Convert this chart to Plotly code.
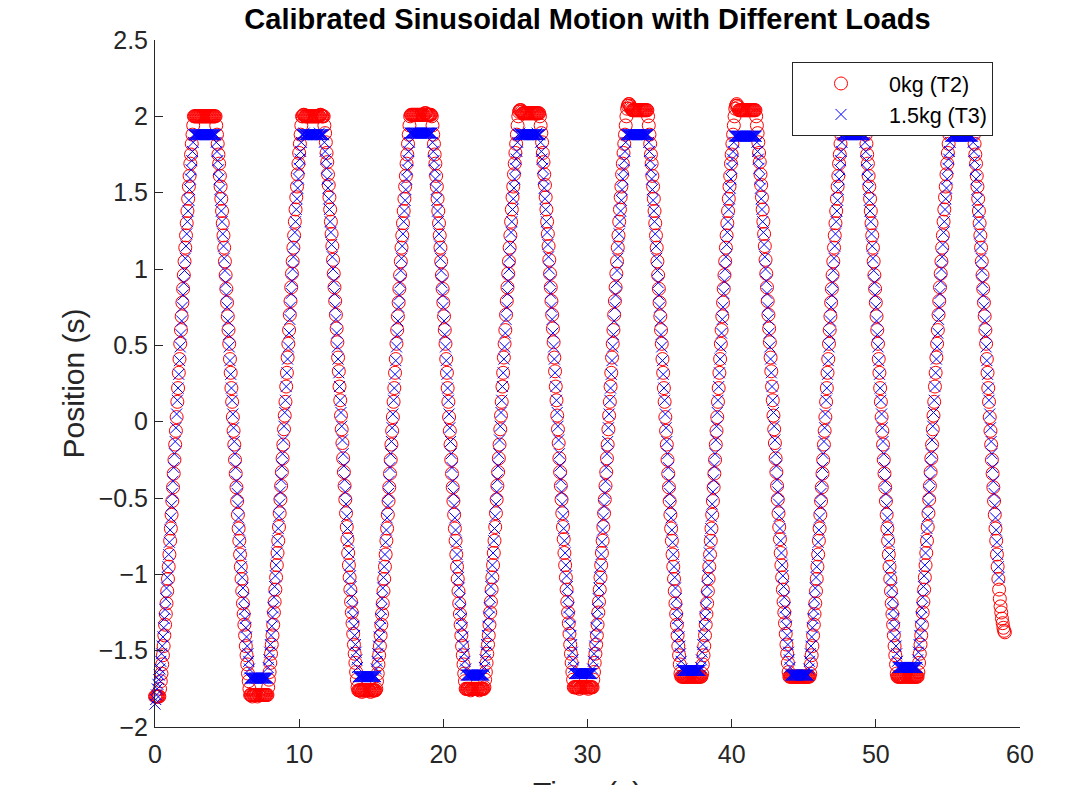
import plotly.graph_objects as go

# Sampling interval of the recorded motion (s)
SAMPLE_DT = 0.05

# ---------------- values ----------------
series_names = ["0kg (T2)", "1.5kg (T3)"]
x_ticks = [0, 10, 20, 30, 40, 50, 60]
x_tick_labels = ["0", "10", "20", "30", "40", "50", "60"]
y_ticks = [-2, -1.5, -1, -0.5, 0, 0.5, 1, 1.5, 2, 2.5]
y_tick_labels = ["\u22122", "\u22121.5", "\u22121", "\u22120.5", "0", "0.5", "1", "1.5", "2", "2.5"]

# Position of the 0kg run (T2), one value per sample
pos_0kg = [
    -1.8, -1.8, -1.8, -1.8, -1.8, -1.8, -1.8,
    # cycle 1
    -1.75, -1.7, -1.65, -1.59, -1.53, -1.47, -1.4, -1.33, -1.26, -1.19, -1.11, -1.03, -0.95, -0.87, -0.78, -0.7, -0.61, -0.52, -0.43, -0.34, -0.25, -0.15, -0.06, 0.03, 0.13, 0.22, 0.32, 0.41, 0.51, 0.6, 0.69, 0.78, 0.87, 0.96, 1.05, 1.14, 1.22, 1.3, 1.38, 1.46, 1.54, 1.61, 1.69, 1.75, 1.82, 1.88, 1.94,
    2.0, 2.0, 2.0, 2.0, 2.0, 2.0, 2.0, 2.0, 2.0, 2.0, 2.0, 2.0, 2.0, 2.0, 2.0, 2.0, 2.0, 2.0, 2.0, 2.0, 2.0, 2.0, 2.0, 2.0, 2.0, 2.0, 2.0, 2.0, 2.0, 2.0, 2.0,
    1.94, 1.88, 1.82, 1.75, 1.69, 1.61, 1.54, 1.46, 1.38, 1.3, 1.22, 1.14, 1.05, 0.96, 0.87, 0.78, 0.69, 0.6, 0.51, 0.41, 0.32, 0.22, 0.13, 0.03, -0.06, -0.15, -0.25, -0.34, -0.43, -0.52, -0.61, -0.7, -0.78, -0.87, -0.95, -1.03, -1.11, -1.19, -1.26, -1.33, -1.4, -1.47, -1.53, -1.59, -1.65, -1.7, -1.75,
    -1.79, -1.79, -1.79, -1.8, -1.79, -1.79, -1.79, -1.79, -1.79, -1.79, -1.8, -1.79, -1.79, -1.79, -1.79, -1.79, -1.79, -1.79, -1.79, -1.79, -1.79, -1.79, -1.79, -1.79, -1.79,
    # cycle 2
    -1.74, -1.69, -1.64, -1.58, -1.52, -1.46, -1.4, -1.33, -1.25, -1.18, -1.1, -1.02, -0.94, -0.86, -0.78, -0.69, -0.6, -0.51, -0.42, -0.33, -0.24, -0.15, -0.05, 0.04, 0.13, 0.23, 0.32, 0.42, 0.51, 0.6, 0.7, 0.79, 0.88, 0.97, 1.05, 1.14, 1.22, 1.31, 1.39, 1.47, 1.54, 1.62, 1.69, 1.76, 1.82, 1.88, 1.94,
    2.0, 2.0, 2.01, 2.01, 2.0, 2.0, 2.0, 2.0, 2.0, 2.0, 2.0, 2.0, 2.0, 2.0, 2.0, 2.0, 2.0, 2.0, 2.0, 2.0, 2.0, 2.0, 2.0, 2.0, 2.0, 2.01, 2.01, 2.0, 2.0, 2.0, 2.0,
    1.94, 1.89, 1.83, 1.76, 1.7, 1.62, 1.55, 1.47, 1.39, 1.31, 1.23, 1.15, 1.06, 0.97, 0.88, 0.79, 0.7, 0.61, 0.52, 0.42, 0.33, 0.23, 0.14, 0.04, -0.05, -0.14, -0.24, -0.33, -0.42, -0.51, -0.6, -0.69, -0.77, -0.86, -0.94, -1.02, -1.1, -1.18, -1.25, -1.32, -1.39, -1.46, -1.52, -1.58, -1.64, -1.69, -1.74,
    -1.76, -1.76, -1.76, -1.76, -1.76, -1.77, -1.76, -1.76, -1.76, -1.76, -1.76, -1.76, -1.76, -1.76, -1.76, -1.76, -1.76, -1.77, -1.76, -1.76, -1.76, -1.76, -1.76, -1.76, -1.76,
    # cycle 3
    -1.75, -1.7, -1.65, -1.59, -1.53, -1.47, -1.4, -1.33, -1.26, -1.19, -1.11, -1.03, -0.95, -0.87, -0.78, -0.7, -0.61, -0.52, -0.43, -0.34, -0.25, -0.15, -0.06, 0.03, 0.13, 0.22, 0.32, 0.41, 0.51, 0.6, 0.69, 0.78, 0.87, 0.96, 1.05, 1.14, 1.22, 1.3, 1.38, 1.46, 1.54, 1.61, 1.69, 1.75, 1.82, 1.88, 1.94,
    2.0, 2.01, 2.01, 2.01, 2.01, 2.01, 2.01, 2.01, 2.01, 2.01, 2.01, 2.01, 2.01, 2.01, 2.01, 2.01, 2.01, 2.01, 2.01, 2.01, 2.02, 2.02, 2.02, 2.01, 2.01, 2.01, 2.01, 2.01, 2.01, 2.01, 2.0,
    1.94, 1.88, 1.82, 1.75, 1.69, 1.61, 1.54, 1.46, 1.38, 1.3, 1.22, 1.14, 1.05, 0.96, 0.87, 0.78, 0.69, 0.6, 0.51, 0.41, 0.32, 0.22, 0.13, 0.03, -0.06, -0.15, -0.25, -0.34, -0.43, -0.52, -0.61, -0.7, -0.78, -0.87, -0.95, -1.03, -1.11, -1.19, -1.26, -1.33, -1.4, -1.47, -1.53, -1.59, -1.65, -1.7, -1.75,
    -1.75, -1.75, -1.75, -1.75, -1.75, -1.75, -1.76, -1.75, -1.75, -1.75, -1.75, -1.75, -1.75, -1.75, -1.75, -1.75, -1.75, -1.75, -1.76, -1.75, -1.75, -1.75, -1.75, -1.75, -1.75,
    # cycle 4
    -1.74, -1.69, -1.64, -1.58, -1.52, -1.46, -1.4, -1.33, -1.25, -1.18, -1.1, -1.02, -0.94, -0.86, -0.78, -0.69, -0.6, -0.51, -0.42, -0.33, -0.24, -0.15, -0.05, 0.04, 0.13, 0.23, 0.32, 0.42, 0.51, 0.6, 0.7, 0.79, 0.88, 0.97, 1.05, 1.14, 1.22, 1.31, 1.39, 1.47, 1.54, 1.62, 1.69, 1.76, 1.82, 1.88, 1.94,
    2.0, 2.03, 2.04, 2.04, 2.04, 2.03, 2.02, 2.02, 2.02, 2.02, 2.02, 2.02, 2.02, 2.02, 2.02, 2.02, 2.02, 2.02, 2.02, 2.02, 2.02, 2.02, 2.02, 2.02, 2.02, 2.02, 2.02, 2.02, 2.02, 2.02, 2.0,
    1.94, 1.89, 1.83, 1.76, 1.7, 1.62, 1.55, 1.47, 1.39, 1.31, 1.23, 1.15, 1.06, 0.97, 0.88, 0.79, 0.7, 0.61, 0.52, 0.42, 0.33, 0.23, 0.14, 0.04, -0.05, -0.14, -0.24, -0.33, -0.42, -0.51, -0.6, -0.69, -0.77, -0.86, -0.94, -1.02, -1.1, -1.18, -1.25, -1.32, -1.39, -1.46, -1.52, -1.58, -1.64, -1.69, -1.74,
    -1.74, -1.74, -1.74, -1.74, -1.74, -1.74, -1.74, -1.75, -1.74, -1.74, -1.74, -1.74, -1.74, -1.74, -1.74, -1.74, -1.74, -1.74, -1.74, -1.75, -1.74, -1.74, -1.74, -1.74, -1.74,
    # cycle 5
    -1.74, -1.69, -1.64, -1.58, -1.52, -1.46, -1.4, -1.33, -1.25, -1.18, -1.1, -1.02, -0.94, -0.86, -0.78, -0.69, -0.6, -0.51, -0.42, -0.33, -0.24, -0.15, -0.05, 0.04, 0.13, 0.23, 0.32, 0.42, 0.51, 0.6, 0.7, 0.79, 0.88, 0.97, 1.05, 1.14, 1.22, 1.31, 1.39, 1.47, 1.54, 1.62, 1.69, 1.76, 1.82, 1.88, 1.94,
    2.0, 2.05, 2.07, 2.08, 2.08, 2.07, 2.06, 2.05, 2.04, 2.04, 2.04, 2.04, 2.04, 2.04, 2.04, 2.04, 2.04, 2.04, 2.04, 2.04, 2.04, 2.04, 2.04, 2.04, 2.04, 2.04, 2.04, 2.04, 2.04, 2.04, 2.0,
    1.94, 1.88, 1.82, 1.75, 1.69, 1.61, 1.54, 1.46, 1.38, 1.3, 1.22, 1.14, 1.05, 0.96, 0.87, 0.78, 0.69, 0.6, 0.51, 0.41, 0.32, 0.22, 0.13, 0.03, -0.06, -0.15, -0.25, -0.34, -0.43, -0.52, -0.61, -0.7, -0.78, -0.87, -0.95, -1.03, -1.11, -1.19, -1.26, -1.33, -1.4, -1.47, -1.53, -1.59, -1.65, -1.67, -1.67,
    -1.67, -1.67, -1.67, -1.67, -1.67, -1.67, -1.67, -1.67, -1.67, -1.67, -1.67, -1.67, -1.67, -1.67, -1.67, -1.67, -1.67, -1.67, -1.67, -1.67, -1.67, -1.67, -1.67, -1.67, -1.67,
    # cycle 6
    -1.67, -1.67, -1.65, -1.59, -1.53, -1.47, -1.4, -1.33, -1.26, -1.19, -1.11, -1.03, -0.95, -0.87, -0.78, -0.7, -0.61, -0.52, -0.43, -0.34, -0.25, -0.15, -0.06, 0.03, 0.13, 0.22, 0.32, 0.41, 0.51, 0.6, 0.69, 0.78, 0.87, 0.96, 1.05, 1.14, 1.22, 1.3, 1.38, 1.46, 1.54, 1.61, 1.69, 1.75, 1.82, 1.88, 1.94,
    2.0, 2.05, 2.07, 2.08, 2.07, 2.06, 2.04, 2.04, 2.04, 2.04, 2.04, 2.04, 2.04, 2.04, 2.04, 2.04, 2.04, 2.04, 2.04, 2.04, 2.04, 2.04, 2.04, 2.04, 2.04, 2.04, 2.04, 2.04, 2.04, 2.04, 2.0,
    1.94, 1.89, 1.83, 1.76, 1.7, 1.62, 1.55, 1.47, 1.39, 1.31, 1.23, 1.15, 1.06, 0.97, 0.88, 0.79, 0.7, 0.61, 0.52, 0.42, 0.33, 0.23, 0.14, 0.04, -0.05, -0.14, -0.24, -0.33, -0.42, -0.51, -0.6, -0.69, -0.77, -0.86, -0.94, -1.02, -1.1, -1.18, -1.25, -1.32, -1.39, -1.46, -1.52, -1.58, -1.64, -1.67, -1.67,
    -1.67, -1.67, -1.67, -1.67, -1.67, -1.67, -1.67, -1.67, -1.67, -1.67, -1.67, -1.67, -1.67, -1.67, -1.67, -1.67, -1.67, -1.67, -1.67, -1.67, -1.67, -1.67, -1.67, -1.67, -1.67,
    # cycle 7
    -1.67, -1.67, -1.65, -1.59, -1.53, -1.47, -1.4, -1.33, -1.26, -1.19, -1.11, -1.03, -0.95, -0.87, -0.78, -0.7, -0.61, -0.52, -0.43, -0.34, -0.25, -0.15, -0.06, 0.03, 0.13, 0.22, 0.32, 0.41, 0.51, 0.6, 0.69, 0.78, 0.87, 0.96, 1.05, 1.14, 1.22, 1.3, 1.38, 1.46, 1.54, 1.61, 1.69, 1.75, 1.82, 1.88, 1.94,
    2.0, 2.0, 2.0, 2.0, 2.0, 2.0, 2.0, 2.0, 2.0, 2.0, 2.0, 2.0, 2.0, 2.0, 2.0, 2.0, 2.0, 2.0, 2.0, 2.0, 2.0, 2.0, 2.0, 2.0, 2.0, 2.0, 2.0, 2.0, 2.0, 2.0, 2.0,
    1.94, 1.88, 1.82, 1.75, 1.69, 1.61, 1.54, 1.46, 1.38, 1.3, 1.22, 1.14, 1.05, 0.96, 0.87, 0.78, 0.69, 0.6, 0.51, 0.41, 0.32, 0.22, 0.13, 0.03, -0.06, -0.15, -0.25, -0.34, -0.43, -0.52, -0.61, -0.7, -0.78, -0.87, -0.95, -1.03, -1.11, -1.19, -1.26, -1.33, -1.4, -1.47, -1.53, -1.59, -1.65, -1.67, -1.67,
    -1.67, -1.67, -1.67, -1.67, -1.67, -1.67, -1.67, -1.67, -1.67, -1.66, -1.67, -1.67, -1.67, -1.67, -1.67, -1.67, -1.67, -1.67, -1.67, -1.67, -1.67, -1.67, -1.67, -1.67, -1.67,
    # cycle 8
    -1.67, -1.67, -1.64, -1.58, -1.52, -1.46, -1.4, -1.33, -1.25, -1.18, -1.1, -1.02, -0.94, -0.86, -0.78, -0.69, -0.6, -0.51, -0.42, -0.33, -0.24, -0.15, -0.05, 0.04, 0.13, 0.23, 0.32, 0.42, 0.51, 0.6, 0.7, 0.79, 0.88, 0.97, 1.05, 1.14, 1.22, 1.31, 1.39, 1.47, 1.54, 1.62, 1.69, 1.76, 1.82, 1.88, 1.94,
    2.0, 2.0, 2.0, 2.0, 2.0, 2.0, 2.0, 2.0, 2.0, 2.0, 2.0, 2.0, 2.0, 2.0, 2.0, 2.0, 2.0, 2.0, 2.0, 2.0, 2.0, 2.0, 2.0, 2.0, 2.0, 2.0, 2.0, 2.0, 2.0, 2.0, 2.0,
    1.94, 1.88, 1.82, 1.75, 1.69, 1.61, 1.54, 1.46, 1.38, 1.3, 1.22, 1.14, 1.05, 0.96, 0.87, 0.78, 0.69, 0.6, 0.51, 0.41, 0.32, 0.22, 0.13, 0.03, -0.06, -0.15, -0.25, -0.34, -0.43, -0.52, -0.61, -0.7, -0.78, -0.87, -0.95,
    -1.03, -1.1, -1.16, -1.21, -1.25, -1.29, -1.32, -1.35, -1.37, -1.38,
]

# Position of the 1.5kg run (T3), one value per sample
pos_15kg = [
    -1.85, -1.82, -1.79, -1.75, -1.72, -1.69, -1.66,
    # cycle 1
    -1.62, -1.57, -1.52, -1.47, -1.41, -1.35, -1.29, -1.23, -1.16, -1.09, -1.02, -0.95, -0.87, -0.79, -0.71, -0.63, -0.55, -0.47, -0.39, -0.3, -0.21, -0.13, -0.04, 0.05, 0.14, 0.22, 0.31, 0.4, 0.49, 0.57, 0.66, 0.75, 0.83, 0.91, 0.99, 1.07, 1.15, 1.23, 1.31, 1.38, 1.45, 1.52, 1.59, 1.65, 1.71, 1.77, 1.83,
    1.88, 1.88, 1.88, 1.88, 1.88, 1.88, 1.88, 1.88, 1.88, 1.88, 1.88, 1.88, 1.88, 1.88, 1.88, 1.88, 1.88, 1.88, 1.88, 1.88, 1.88, 1.88, 1.88, 1.88, 1.88, 1.88, 1.88, 1.88, 1.88, 1.88, 1.88,
    1.83, 1.77, 1.71, 1.65, 1.59, 1.52, 1.45, 1.38, 1.31, 1.23, 1.15, 1.07, 0.99, 0.91, 0.83, 0.75, 0.66, 0.57, 0.49, 0.4, 0.31, 0.22, 0.14, 0.05, -0.04, -0.13, -0.21, -0.3, -0.39, -0.47, -0.55, -0.63, -0.71, -0.79, -0.87, -0.95, -1.02, -1.09, -1.16, -1.23, -1.29, -1.35, -1.41, -1.47, -1.52, -1.57, -1.62,
    -1.68, -1.68, -1.68, -1.68, -1.68, -1.68, -1.68, -1.68, -1.68, -1.68, -1.68, -1.68, -1.68, -1.68, -1.68, -1.68, -1.68, -1.68, -1.68, -1.68, -1.68, -1.68, -1.68, -1.68, -1.68,
    # cycle 2
    -1.61, -1.56, -1.51, -1.46, -1.4, -1.34, -1.28, -1.22, -1.15, -1.08, -1.01, -0.94, -0.86, -0.78, -0.7, -0.62, -0.54, -0.46, -0.38, -0.29, -0.21, -0.12, -0.03, 0.06, 0.14, 0.23, 0.32, 0.41, 0.49, 0.58, 0.67, 0.75, 0.84, 0.92, 1.0, 1.08, 1.16, 1.24, 1.31, 1.39, 1.46, 1.53, 1.59, 1.66, 1.72, 1.77, 1.83,
    1.88, 1.88, 1.88, 1.89, 1.88, 1.88, 1.88, 1.88, 1.88, 1.88, 1.88, 1.88, 1.88, 1.88, 1.88, 1.88, 1.88, 1.88, 1.88, 1.88, 1.88, 1.88, 1.88, 1.88, 1.89, 1.88, 1.88, 1.88, 1.88, 1.88, 1.88,
    1.83, 1.77, 1.72, 1.66, 1.59, 1.53, 1.46, 1.39, 1.31, 1.24, 1.16, 1.08, 1.0, 0.92, 0.84, 0.75, 0.67, 0.58, 0.49, 0.41, 0.32, 0.23, 0.14, 0.06, -0.03, -0.12, -0.21, -0.29, -0.38, -0.46, -0.54, -0.62, -0.7, -0.78, -0.86, -0.94, -1.01, -1.08, -1.15, -1.22, -1.28, -1.34, -1.4, -1.46, -1.51, -1.56, -1.61,
    -1.67, -1.67, -1.67, -1.67, -1.67, -1.67, -1.67, -1.67, -1.67, -1.67, -1.67, -1.67, -1.67, -1.67, -1.67, -1.67, -1.67, -1.67, -1.67, -1.67, -1.67, -1.67, -1.67, -1.67, -1.67,
    # cycle 3
    -1.62, -1.57, -1.52, -1.47, -1.41, -1.35, -1.29, -1.23, -1.16, -1.09, -1.02, -0.95, -0.87, -0.79, -0.71, -0.63, -0.55, -0.47, -0.39, -0.3, -0.21, -0.13, -0.04, 0.05, 0.14, 0.22, 0.31, 0.4, 0.49, 0.57, 0.66, 0.75, 0.83, 0.91, 0.99, 1.07, 1.15, 1.23, 1.31, 1.38, 1.45, 1.52, 1.59, 1.65, 1.71, 1.77, 1.83,
    1.89, 1.89, 1.89, 1.89, 1.89, 1.89, 1.89, 1.89, 1.89, 1.89, 1.89, 1.89, 1.89, 1.89, 1.89, 1.89, 1.89, 1.89, 1.89, 1.89, 1.89, 1.89, 1.89, 1.89, 1.89, 1.89, 1.89, 1.89, 1.89, 1.89, 1.89,
    1.83, 1.77, 1.71, 1.65, 1.59, 1.52, 1.45, 1.38, 1.31, 1.23, 1.15, 1.07, 0.99, 0.91, 0.83, 0.75, 0.66, 0.57, 0.49, 0.4, 0.31, 0.22, 0.14, 0.05, -0.04, -0.13, -0.21, -0.3, -0.39, -0.47, -0.55, -0.63, -0.71, -0.79, -0.87, -0.95, -1.02, -1.09, -1.16, -1.23, -1.29, -1.35, -1.41, -1.47, -1.52, -1.57, -1.62,
    -1.66, -1.66, -1.66, -1.66, -1.66, -1.66, -1.66, -1.66, -1.66, -1.66, -1.66, -1.66, -1.66, -1.66, -1.66, -1.66, -1.66, -1.66, -1.66, -1.66, -1.66, -1.66, -1.66, -1.66, -1.66,
    # cycle 4
    -1.61, -1.56, -1.51, -1.46, -1.4, -1.34, -1.28, -1.22, -1.15, -1.08, -1.01, -0.94, -0.86, -0.78, -0.7, -0.62, -0.54, -0.46, -0.38, -0.29, -0.21, -0.12, -0.03, 0.06, 0.14, 0.23, 0.32, 0.41, 0.49, 0.58, 0.67, 0.75, 0.84, 0.92, 1.0, 1.08, 1.16, 1.24, 1.31, 1.39, 1.46, 1.53, 1.59, 1.66, 1.72, 1.77, 1.83,
    1.88, 1.88, 1.89, 1.88, 1.88, 1.88, 1.88, 1.88, 1.88, 1.88, 1.88, 1.88, 1.88, 1.88, 1.88, 1.88, 1.88, 1.88, 1.88, 1.88, 1.88, 1.88, 1.88, 1.88, 1.88, 1.88, 1.89, 1.88, 1.88, 1.88, 1.88,
    1.83, 1.77, 1.72, 1.66, 1.59, 1.53, 1.46, 1.39, 1.31, 1.24, 1.16, 1.08, 1.0, 0.92, 0.84, 0.75, 0.67, 0.58, 0.49, 0.41, 0.32, 0.23, 0.14, 0.06, -0.03, -0.12, -0.21, -0.29, -0.38, -0.46, -0.54, -0.62, -0.7, -0.78, -0.86, -0.94, -1.01, -1.08, -1.15, -1.22, -1.28, -1.34, -1.4, -1.46, -1.51, -1.56, -1.61,
    -1.65, -1.65, -1.65, -1.65, -1.65, -1.65, -1.65, -1.65, -1.65, -1.65, -1.65, -1.65, -1.65, -1.65, -1.65, -1.65, -1.65, -1.65, -1.65, -1.65, -1.65, -1.65, -1.65, -1.65, -1.65,
    # cycle 5
    -1.62, -1.57, -1.52, -1.47, -1.41, -1.35, -1.29, -1.23, -1.16, -1.09, -1.02, -0.95, -0.87, -0.79, -0.71, -0.63, -0.55, -0.47, -0.39, -0.3, -0.21, -0.13, -0.04, 0.05, 0.14, 0.22, 0.31, 0.4, 0.49, 0.57, 0.66, 0.75, 0.83, 0.91, 0.99, 1.07, 1.15, 1.23, 1.31, 1.38, 1.45, 1.52, 1.59, 1.65, 1.71, 1.77, 1.83,
    1.88, 1.88, 1.88, 1.88, 1.88, 1.88, 1.88, 1.88, 1.88, 1.88, 1.88, 1.88, 1.88, 1.88, 1.88, 1.88, 1.88, 1.88, 1.88, 1.88, 1.88, 1.88, 1.88, 1.88, 1.88, 1.88, 1.88, 1.88, 1.88, 1.88, 1.88,
    1.83, 1.77, 1.71, 1.65, 1.59, 1.52, 1.45, 1.38, 1.31, 1.23, 1.15, 1.07, 0.99, 0.91, 0.83, 0.75, 0.66, 0.57, 0.49, 0.4, 0.31, 0.22, 0.14, 0.05, -0.04, -0.13, -0.21, -0.3, -0.39, -0.47, -0.55, -0.63, -0.71, -0.79, -0.87, -0.95, -1.02, -1.09, -1.16, -1.23, -1.29, -1.35, -1.41, -1.47, -1.52, -1.57, -1.62,
    -1.63, -1.63, -1.63, -1.63, -1.63, -1.63, -1.63, -1.63, -1.63, -1.63, -1.63, -1.63, -1.63, -1.63, -1.63, -1.63, -1.63, -1.63, -1.63, -1.63, -1.63, -1.63, -1.63, -1.63, -1.63,
    # cycle 6
    -1.61, -1.56, -1.51, -1.46, -1.4, -1.34, -1.28, -1.22, -1.15, -1.08, -1.01, -0.94, -0.86, -0.78, -0.7, -0.62, -0.54, -0.46, -0.38, -0.29, -0.21, -0.12, -0.03, 0.06, 0.14, 0.23, 0.32, 0.41, 0.49, 0.58, 0.67, 0.75, 0.84, 0.92, 1.0, 1.08, 1.16, 1.24, 1.31, 1.39, 1.46, 1.53, 1.59, 1.66, 1.72, 1.77, 1.83,
    1.87, 1.87, 1.87, 1.87, 1.87, 1.87, 1.87, 1.87, 1.87, 1.87, 1.87, 1.87, 1.87, 1.87, 1.87, 1.87, 1.87, 1.87, 1.87, 1.87, 1.87, 1.87, 1.87, 1.87, 1.87, 1.87, 1.87, 1.87, 1.87, 1.87, 1.87,
    1.83, 1.77, 1.72, 1.66, 1.59, 1.53, 1.46, 1.39, 1.31, 1.24, 1.16, 1.08, 1.0, 0.92, 0.84, 0.75, 0.67, 0.58, 0.49, 0.41, 0.32, 0.23, 0.14, 0.06, -0.03, -0.12, -0.21, -0.29, -0.38, -0.46, -0.54, -0.62, -0.7, -0.78, -0.86, -0.94, -1.01, -1.08, -1.15, -1.22, -1.28, -1.34, -1.4, -1.46, -1.51, -1.56, -1.61,
    -1.66, -1.66, -1.66, -1.66, -1.66, -1.66, -1.66, -1.66, -1.66, -1.66, -1.66, -1.66, -1.66, -1.66, -1.66, -1.66, -1.66, -1.66, -1.66, -1.66, -1.66, -1.66, -1.66, -1.66, -1.66,
    # cycle 7
    -1.62, -1.57, -1.52, -1.47, -1.41, -1.35, -1.29, -1.23, -1.16, -1.09, -1.02, -0.95, -0.87, -0.79, -0.71, -0.63, -0.55, -0.47, -0.39, -0.3, -0.21, -0.13, -0.04, 0.05, 0.14, 0.22, 0.31, 0.4, 0.49, 0.57, 0.66, 0.75, 0.83, 0.91, 0.99, 1.07, 1.15, 1.23, 1.31, 1.38, 1.45, 1.52, 1.59, 1.65, 1.71, 1.77, 1.83,
    1.88, 1.88, 1.88, 1.88, 1.88, 1.88, 1.88, 1.88, 1.88, 1.88, 1.88, 1.88, 1.88, 1.88, 1.88, 1.88, 1.88, 1.88, 1.88, 1.88, 1.88, 1.88, 1.88, 1.88, 1.88, 1.88, 1.88, 1.88, 1.88, 1.88, 1.88,
    1.83, 1.77, 1.71, 1.65, 1.59, 1.52, 1.45, 1.38, 1.31, 1.23, 1.15, 1.07, 0.99, 0.91, 0.83, 0.75, 0.66, 0.57, 0.49, 0.4, 0.31, 0.22, 0.14, 0.05, -0.04, -0.13, -0.21, -0.3, -0.39, -0.47, -0.55, -0.63, -0.71, -0.79, -0.87, -0.95, -1.02, -1.09, -1.16, -1.23, -1.29, -1.35, -1.41, -1.47, -1.52, -1.57, -1.61,
    -1.61, -1.61, -1.61, -1.61, -1.61, -1.61, -1.61, -1.61, -1.61, -1.61, -1.61, -1.61, -1.61, -1.61, -1.61, -1.61, -1.61, -1.61, -1.61, -1.61, -1.61, -1.61, -1.61, -1.61, -1.61,
    # cycle 8
    -1.61, -1.56, -1.51, -1.46, -1.4, -1.34, -1.28, -1.22, -1.15, -1.08, -1.01, -0.94, -0.86, -0.78, -0.7, -0.62, -0.54, -0.46, -0.38, -0.29, -0.21, -0.12, -0.03, 0.06, 0.14, 0.23, 0.32, 0.41, 0.49, 0.58, 0.67, 0.75, 0.84, 0.92, 1.0, 1.08, 1.16, 1.24, 1.31, 1.39, 1.46, 1.53, 1.59, 1.66, 1.72, 1.77, 1.83,
    1.87, 1.87, 1.87, 1.87, 1.87, 1.87, 1.87, 1.87, 1.87, 1.87, 1.87, 1.87, 1.87, 1.87, 1.87, 1.87, 1.87, 1.87, 1.87, 1.87, 1.87, 1.87, 1.87, 1.87, 1.87, 1.87, 1.87, 1.87, 1.87, 1.87, 1.87,
    1.83, 1.77, 1.71, 1.65, 1.59, 1.52, 1.45, 1.38, 1.31, 1.23, 1.15, 1.07, 0.99, 0.91, 0.83, 0.75, 0.66, 0.57, 0.49, 0.4, 0.31, 0.22, 0.14, 0.05, -0.04, -0.13, -0.21, -0.3, -0.39, -0.47, -0.55, -0.63, -0.71, -0.79, -0.87, -0.95, -1.02,
]

# Sample clock (uniform sampling, SAMPLE_DT seconds apart)
time_0kg = [round(i * SAMPLE_DT, 2) for i in range(len(pos_0kg))]
time_15kg = [round(i * SAMPLE_DT, 2) for i in range(len(pos_15kg))]

# ---------------- figure ----------------
AXIS_COLOR = "#262626"
FONT = "Liberation Sans, Arial, Helvetica, sans-serif"
FIG_W, FIG_H = 1071, 777   # page body adds an 8 px offset in the browser
PLOT_H = FIG_H - 32 - 58

fig = go.Figure()
fig.add_trace(go.Scatter(
    x=time_0kg, y=pos_0kg, mode="markers", name=series_names[0],
    marker=dict(symbol="circle-open", size=13, color="#FF0000",
                line=dict(width=1, color="#FF0000")),
    cliponaxis=False,
))
fig.add_trace(go.Scatter(
    x=time_15kg, y=pos_15kg, mode="markers", name=series_names[1],
    marker=dict(symbol="x-thin-open", size=11, color="#0000FF",
                line=dict(width=1, color="#0000FF")),
    cliponaxis=False,
))

axis_common = dict(
    showgrid=False, zeroline=False, showline=True, linecolor=AXIS_COLOR,
    linewidth=1, ticks="inside", ticklen=8, tickwidth=1, tickcolor=AXIS_COLOR,
    tickfont=dict(family=FONT, size=25, color=AXIS_COLOR), mirror=False,
    automargin=False,
)

fig.update_layout(
    width=FIG_W, height=FIG_H,
    margin=dict(l=147, r=59, t=32, b=58, pad=0),
    paper_bgcolor="white", plot_bgcolor="white",
    font=dict(family=FONT, color=AXIS_COLOR),
    title=dict(
        text="<b>Calibrated Sinusoidal Motion with Different Loads</b>",
        font=dict(family=FONT, size=29, color="#000000"),
        x=0.5, xref="paper", xanchor="center",
        y=1 - 11 / FIG_H, yref="container", yanchor="middle",
    ),
    xaxis=dict(
        range=[0, 60], tickmode="array", tickvals=x_ticks, ticktext=x_tick_labels,
        ticklabelstandoff=5,
        **axis_common,
    ),
    yaxis=dict(
        range=[-2, 2.5], tickmode="array", tickvals=y_ticks, ticktext=y_tick_labels,
        ticklabelstandoff=1,
        title=dict(text="Position (s)", font=dict(family=FONT, size=30, color=AXIS_COLOR), standoff=5),
        **axis_common,
    ),
    legend=dict(
        x=(792 - 155) / 865, y=(727 - 62) / 687, xanchor="left", yanchor="top",
        bgcolor="white", bordercolor=AXIS_COLOR, borderwidth=1,
        font=dict(family=FONT, size=21.5, color="#000000"),
        itemwidth=86, tracegroupgap=0,
    ),
    showlegend=True,
    annotations=[dict(
        text="Time (s)", xref="paper", yref="paper", x=0.5, y=-(774 - 727) / PLOT_H,
        xanchor="center", yanchor="top", showarrow=False,
        font=dict(family=FONT, size=30, color=AXIS_COLOR),
    )],
)

fig.write_html("out.html")
